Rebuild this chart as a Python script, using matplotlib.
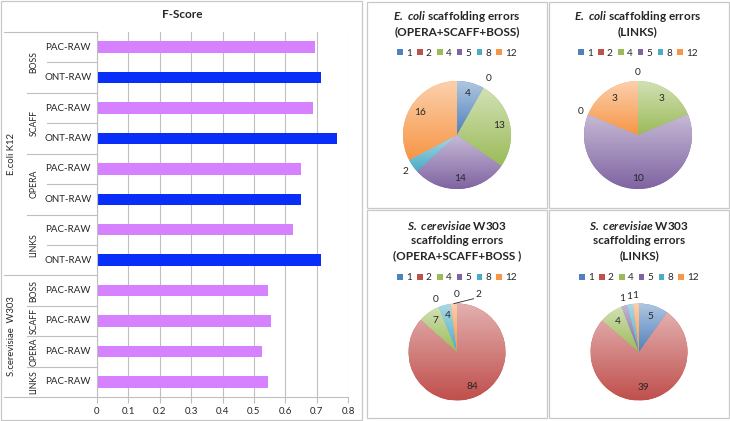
import numpy as np
import matplotlib
matplotlib.use('Agg')
import matplotlib.pyplot as plt
from matplotlib.patches import Rectangle, Patch
from matplotlib.lines import Line2D
from matplotlib.colors import to_rgb
from matplotlib.transforms import blended_transform_factory

plt.rcParams['font.family'] = ['Lato', 'DejaVu Sans']
plt.rcParams['mathtext.fontset'] = 'custom'
plt.rcParams['mathtext.rm'] = 'Lato'
plt.rcParams['mathtext.it'] = 'Lato:italic'
plt.rcParams['mathtext.bf'] = 'Lato:bold'
plt.rcParams['mathtext.bfit'] = 'Lato:italic:bold'

# ---- F-score bars (top to bottom) ----
species = ['E.coli K12'] * 8 + ['S.cerevisiae  W303'] * 4
tools = ['BOSS', 'BOSS', 'SCAFF', 'SCAFF', 'OPERA', 'OPERA', 'LINKS', 'LINKS',
         'BOSS', 'SCAFF', 'OPERA', 'LINKS']
reads = ['PAC-RAW', 'ONT-RAW'] * 4 + ['PAC-RAW'] * 4
fscore = [0.694, 0.713, 0.690, 0.764, 0.649, 0.651, 0.625, 0.715,
          0.544, 0.553, 0.527, 0.544]

# ---- scaffolding error pies ----
err_sizes = ['1', '2', '4', '5', '8', '12']
ecoli_osb = [4, 0, 13, 14, 2, 16]
ecoli_links = [0, 0, 3, 10, 0, 3]
scer_osb = [0, 84, 7, 0, 4, 2]
scer_links = [5, 39, 4, 1, 1, 1]

pie_colors = ['#4F81BD', '#C0504D', '#9BBB59', '#8064A2', '#4BACC6', '#F79646']
pac_color = '#D681FF'
ont_color = '#0A2EFA'
txt = '#262626'
grid = '#BFBFBF'
fs = 7

W, H = 730, 421
fig = plt.figure(figsize=(W / 100, H / 100), dpi=100)


def fx(x):
    return x / W


def fy(y):
    return 1 - y / H


# panel frames
for x0, y0, x1, y1 in [(1, 1, 362, 420), (367, 2, 547, 208), (549, 2, 729, 208),
                       (367, 210, 547, 418), (549, 210, 729, 418)]:
    fig.patches.append(Rectangle((fx(x0), fy(y1)), (x1 - x0) / W, (y1 - y0) / H,
                                 transform=fig.transFigure, fill=False,
                                 ec='#C8C8C8', lw=0.9))

# ---- bar chart ----
ax = fig.add_axes([fx(97), fy(397), 251 / W, 365 / H])
rows = np.arange(len(fscore))
bar_cols = [pac_color if r == 'PAC-RAW' else ont_color for r in reads]
ax.barh(rows, fscore, height=0.38, color=bar_cols)
ax.set_ylim(len(rows) - 0.5, -0.5)
ax.set_xlim(0, 0.8)
ticks = np.round(np.arange(0, 0.81, 0.1), 1)
ax.set_xticks(ticks)
ax.set_xticklabels(['0'] + [f'{t:g}' for t in ticks[1:]])
ax.xaxis.grid(True, color=grid, lw=0.8)
ax.set_axisbelow(True)
ax.set_yticks([])
for s in ['top', 'right']:
    ax.spines[s].set_visible(False)
for s in ['left', 'bottom']:
    ax.spines[s].set_color(grid)
    ax.spines[s].set_linewidth(0.8)
ax.tick_params(axis='x', length=4, color=grid, labelsize=fs, pad=3,
               labelcolor=txt)

tr = blended_transform_factory(fig.transFigure, ax.transData)
for i, r in enumerate(reads):
    ax.text(fx(68), i, r, transform=tr, ha='center', va='center',
            fontsize=fs, color=txt)

# group labels
def runs(keys):
    out = []
    start = 0
    for i in range(1, len(keys) + 1):
        if i == len(keys) or keys[i] != keys[start]:
            out.append((start, i - 1, keys[start]))
            start = i
    return out

for a, b, (sp, tl) in runs(list(zip(species, tools))):
    ax.text(fx(34), (a + b) / 2, tl, transform=tr, ha='center', va='center',
            rotation=90, fontsize=6.3, color=txt)
for a, b, sp in runs(species):
    ax.text(fx(12), (a + b) / 2, sp, transform=tr, ha='center', va='center',
            rotation=90, fontsize=6.8, color=txt)

# separator lines in the category area
for k in range(len(rows) + 1):
    if k in (0, len(rows)) or species[k] != species[k - 1]:
        x0 = 4
    elif tools[k] != tools[k - 1]:
        x0 = 27
    else:
        x0 = 47
    ax.add_line(Line2D([fx(x0), fx(97)], [k - 0.5, k - 0.5], transform=tr,
                       color=grid, lw=0.8, clip_on=False))

fig.text(fx(182), fy(15), 'F-Score', ha='center', va='center',
         fontsize=8.5, fontweight='bold', color=txt)


# ---- pies ----
def draw_pie(cx, cy, r, values, titles, title_ys, legend_y, label_r,
             label_shift=None):
    lim = 1.6
    pax = fig.add_axes([fx(cx - lim * r), fy(cy + lim * r),
                        2 * lim * r / W, 2 * lim * r / H])
    wedges, _ = pax.pie(values, colors=pie_colors, startangle=90,
                        counterclock=False, radius=1,
                        wedgeprops=dict(linewidth=0))
    for w, v, c in zip(wedges, values, pie_colors):
        if v == 0:
            continue
        bb = w.get_path().get_extents()
        base = np.array(to_rgb(c))
        light = base + (1 - base) * 0.55
        t = np.linspace(0, 1, 64)[:, None, None]
        img = light * (1 - t) + base * t
        im = pax.imshow(img, extent=(bb.x0, bb.x1, bb.y0, bb.y1),
                        origin='upper', aspect='auto',
                        interpolation='bilinear', zorder=w.get_zorder() + 0.1)
        im.set_clip_path(w)
    total = float(sum(values))
    cum = 0.0
    placed = set()
    for i, v in enumerate(values):
        mid = 90 - 360 * (cum + v / 2) / total
        cum += v
        shift = label_shift[i] if label_shift else 0
        ang = np.deg2rad(mid + shift)
        d = label_r[i]
        pos = (round(d * np.cos(ang), 2), round(d * np.sin(ang), 2))
        if pos in placed:
            continue
        placed.add(pos)
        pax.text(pos[0], pos[1], str(v), ha='center',
                 va='center', fontsize=7.3, color=txt, zorder=5)
        if shift:
            m = np.deg2rad(mid)
            e = np.deg2rad(mid + shift + 3)
            pax.plot([np.cos(m), 1.15 * np.cos(e)], [np.sin(m), 1.15 * np.sin(e)],
                     color=txt, lw=0.6, zorder=5)
    pax.set_xlim(-lim, lim)
    pax.set_ylim(-lim, lim)
    pax.axis('off')

    for line, y in zip(titles, title_ys):
        fig.text(fx(cx), fy(y), line, ha='center', va='center', fontsize=8.5,
                 fontweight='bold', color=txt)
    fig.legend(handles=[Patch(fc=c, ec='none') for c in pie_colors],
               labels=err_sizes, loc='center',
               bbox_to_anchor=(fx(cx), fy(legend_y)), ncol=6, frameon=False,
               fontsize=7.2, handlelength=0.55, handleheight=0.55,
               handletextpad=0.3, columnspacing=0.55, borderaxespad=0,
               borderpad=0, labelcolor=txt)


draw_pie(457, 135, 54, ecoli_osb,
         [r'$\mathbfit{E.\ coli}$ scaffolding errors', '(OPERA+SCAFF+BOSS)'],
         [17, 32], 53, [0.8, 1.2, 0.8, 0.8, 1.17, 0.8])
draw_pie(638, 135, 54, ecoli_links,
         [r'$\mathbfit{E.\ coli}$ scaffolding errors', '(LINKS)'],
         [17, 32], 53, [1.15, 1.15, 0.8, 0.8, 1.15, 0.8])
draw_pie(457, 352, 48.5, scer_osb,
         [r'$\mathbfit{S.\ cerevisiae}$ W303', 'scaffolding errors',
          '(OPERA+SCAFF+BOSS )'],
         [226, 241, 256], 278, [1.18, 0.78, 0.78, 1.18, 0.78, 1.27],
         [0, 0, 0, 0, 0, -24])
draw_pie(639, 352, 48.5, scer_links,
         [r'$\mathbfit{S.\ cerevisiae}$ W303', 'scaffolding errors', '(LINKS)'],
         [226, 241, 256], 278, [0.77, 0.75, 0.77, 1.17, 1.17, 1.17])

fig.savefig('out.png', dpi=100)
